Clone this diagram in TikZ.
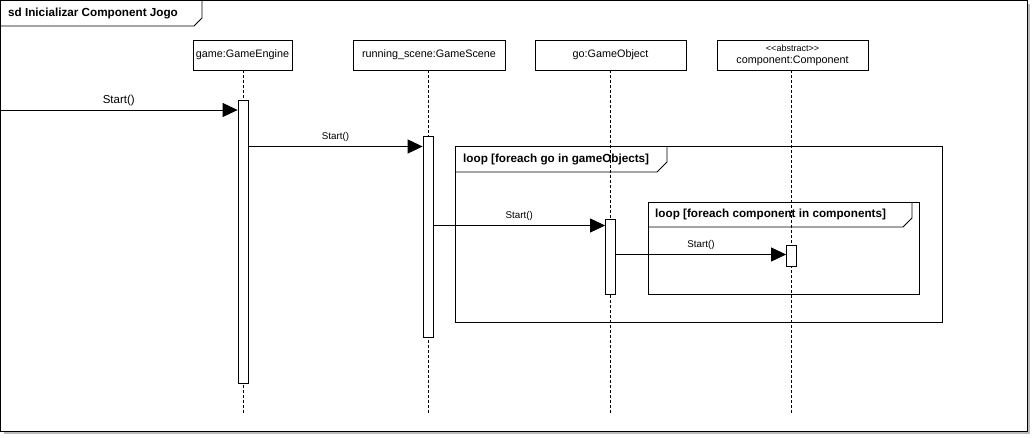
\documentclass[tikz,border=0pt]{standalone}
\usepackage{fontspec}
\setmainfont{Liberation Sans}
\usetikzlibrary{arrows.meta,shadows}
\tikzstyle{head} = [draw=black, line width=0.8pt, minimum height=30pt, inner sep=1pt, align=center, font=\fontsize{10.8}{12}\selectfont]
\tikzstyle{act} = [draw=black, fill=white, line width=0.8pt, minimum width=10pt, inner sep=0pt]
\tikzstyle{lifeline} = [line width=0.7pt, dash pattern=on 3pt off 2pt]
\tikzstyle{msg} = [line width=0.8pt, -{Triangle[length=15pt,width=14pt]}]
\tikzstyle{msglabel} = [midway, above, inner sep=4.5pt, font=\fontsize{9.8}{11}\selectfont]
\tikzstyle{frag} = [line width=0.8pt]
\tikzstyle{fragtitle} = [anchor=west, inner sep=0pt, font=\fontsize{11.7}{13}\selectfont\bfseries]
\newcommand{\lifeend}{413}

\begin{document}
\begin{tikzpicture}[x=1pt, y=-1pt]
	\useasboundingbox (0,0) rectangle (1034,437);
	% outer frame
	\draw[frag, fill=white, drop shadow={shadow xshift=3pt, shadow yshift=-3pt, fill=black!45, opacity=.6}] (0.5,0.5) rectangle (1027,431);
	\draw[frag] (202,0.5) -- (202,18) -- (194,26) -- (0.5,26);
	\node[fragtitle] (title) at (8,13) {sd Inicializar Component Jogo};

	% lifeline heads
	\node[head, minimum width=99pt] (ge) at (242.5,55) {game:GameEngine};
	\node[head, minimum width=152pt] (gs) at (429,55) {running\_scene:GameScene};
	\node[head, minimum width=151pt] (go) at (610.5,55) {go:GameObject};
	\node[head, minimum width=151pt] (cp) at (792.5,55) {{\fontsize{9}{10}\selectfont <{}<abstract>{}>}\\component:Component};

	% lifelines
	\draw[lifeline] (243,70) -- (243,\lifeend);
	\draw[lifeline] (428,70) -- (428,\lifeend);
	\draw[lifeline] (610.5,70) -- (610.5,\lifeend);
	\draw[lifeline] (791.5,70) -- (791.5,\lifeend);

	% loop fragments
	\draw[frag] (455,146) rectangle (942,322.5);
	\draw[frag] (667,146) -- (667,162) -- (657,172) -- (455,172);
	\node[fragtitle] (outerloop) at (463,159) {loop [foreach go in gameObjects]};
	\draw[frag] (648,202) rectangle (919,294);
	\draw[frag] (912,202) -- (912,218) -- (903,227) -- (648,227);
	\node[fragtitle] (innerloop) at (655,214.5) {loop [foreach component in components]};

	% activations
	\node[act, minimum height=283pt] (geAct) at (243,241.5) {};
	\node[act, minimum height=201pt] (gsAct) at (428,236.5) {};
	\node[act, minimum height=75pt] (goAct) at (610.5,256.5) {};
	\node[act, minimum height=21pt] (cpAct) at (791.5,255.5) {};

	% messages
	\coordinate (src) at (0,110);
	\draw[msg] (src) -- (geAct.west |- src) node[msglabel, inner sep=3.5pt, font=\fontsize{11.5}{13}\selectfont] (m1) {Start()};
	\draw[msg] (geAct.east |- 0,146.5) -- (gsAct.west |- 0,146.5) node[msglabel] (m2) {Start()};
	\draw[msg] (gsAct.east |- 0,225.5) -- (goAct.west |- 0,225.5) node[msglabel] (m3) {Start()};
	\draw[msg] (goAct.east |- 0,254.5) -- (cpAct.west |- 0,254.5) node[msglabel] (m4) {Start()};
\end{tikzpicture}
\end{document}
